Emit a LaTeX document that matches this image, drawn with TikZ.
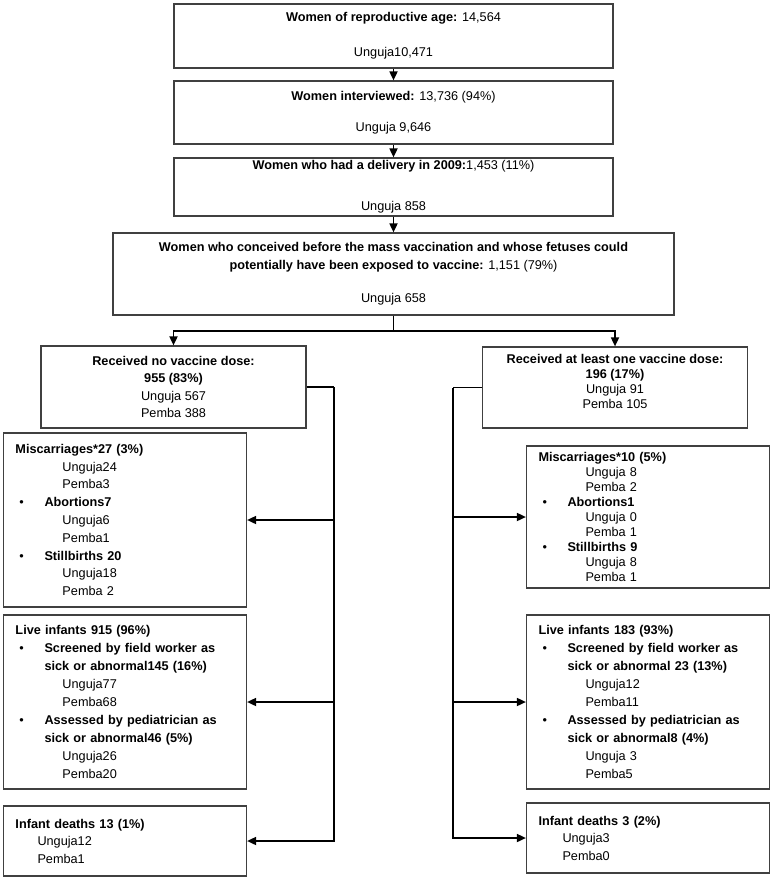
\documentclass[tikz,border=0pt]{standalone}
\usepackage{fontspec}
\setmainfont{Liberation Sans}
\usetikzlibrary{arrows.meta}
\tikzstyle{mainbox} = [rectangle, draw=black!75, line width=1.2pt, align=center, inner sep=0pt, font=\fontsize{12.7}{18}\selectfont]
\tikzstyle{armbox} = [rectangle, draw=black!75, line width=1.2pt, align=center, inner sep=0pt, minimum width=265pt]
\tikzstyle{listbox} = [rectangle, draw=black!75, line width=1.2pt, align=left, inner xsep=12pt, inner ysep=0pt, text width=219pt]
\tikzstyle{line} = [line width=1.7pt]
\tikzstyle{arrow} = [line width=1.7pt, -{Triangle[length=9pt,width=8pt]}]
\newcommand{\bul}{\makebox[29pt][l]{\hspace{4pt}\textbullet}}
\newcommand{\sub}{\hspace*{47pt}}
\newcommand{\wrap}{\hspace*{29pt}}

\begin{document}
\begin{tikzpicture}[x=1pt, y=-1pt]
            \useasboundingbox (0,0) rectangle (774,880);
            % Nodes
            \node (total) [mainbox, minimum width=439pt, minimum height=64pt] at (393.5,36)
                {\textbf{Women of reproductive age:} 14,564\\[17pt]Unguja10,471};
            \node (interv) [mainbox, minimum width=439pt, minimum height=63pt] at (393.5,112.5)
                {\textbf{Women interviewed:} 13,736 (94\%)\\[13pt]Unguja 9,646};
            \node (deliv) [mainbox, minimum width=439pt, minimum height=58pt] at (393.5,187)
                {\textbf{Women who had a delivery in 2009:}1,453 (11\%)\\[23pt]Unguja 858};
            \node (exposed) [mainbox, minimum width=561pt, minimum height=82pt] at (393.5,274)
                {\textbf{Women who conceived before the mass vaccination and whose fetuses could}\\
                 \textbf{potentially have been exposed to vaccine:} 1,151 (79\%)\\[15pt]Unguja 658};

            \node (novacc) [armbox, minimum height=82pt, font=\fontsize{12.7}{17.5}\selectfont] at (173.5,387)
                {\textbf{Received no vaccine dose:}\\\textbf{955 (83\%)}\\Unguja 567\\Pemba 388};
            \node (vacc) [armbox, minimum height=81pt, font=\fontsize{12.7}{15}\selectfont] at (615,387.5)
                {\textbf{Received at least one vaccine dose:}\\\textbf{196 (17\%)}\\Unguja 91\\Pemba 105\\[-3pt]};

            \node (lossno) [listbox, minimum height=174pt, font=\fontsize{12.7}{17.8}\selectfont] at (125,520)
                {\textbf{Miscarriages*27 (3\%)}\\\sub Unguja24\\\sub Pemba3\\
                 \bul\textbf{Abortions7}\\\sub Unguja6\\\sub Pemba1\\
                 \bul\textbf{Stillbirths 20}\\\sub Unguja18\\\sub Pemba 2};
            \node (liveno) [listbox, minimum height=174pt, font=\fontsize{12.7}{17.9}\selectfont] at (125,702)
                {\textbf{Live infants 915 (96\%)}\\
                 \bul\textbf{Screened by field worker as}\\\wrap\textbf{sick or abnormal145 (16\%)}\\
                 \sub Unguja77\\\sub Pemba68\\
                 \bul\textbf{Assessed by pediatrician as}\\\wrap\textbf{sick or abnormal46 (5\%)}\\
                 \sub Unguja26\\\sub Pemba20};
            \node (deathno) [listbox, minimum height=70pt, font=\fontsize{12.7}{17.5}\selectfont] at (125,841)
                {\textbf{Infant deaths 13 (1\%)}\\\hspace*{22pt}Unguja12\\\hspace*{22pt}Pemba1};

            \node (lossva) [listbox, minimum height=142pt, font=\fontsize{12.7}{15}\selectfont] at (648,517)
                {\textbf{Miscarriages*10 (5\%)}\\\sub Unguja 8\\\sub Pemba 2\\
                 \bul\textbf{Abortions1}\\\sub Unguja 0\\\sub Pemba 1\\
                 \bul\textbf{Stillbirths 9}\\\sub Unguja 8\\\sub Pemba 1};
            \node (liveva) [listbox, minimum height=174pt, font=\fontsize{12.7}{17.9}\selectfont] at (648,702)
                {\textbf{Live infants 183 (93\%)}\\
                 \bul\textbf{Screened by field worker as}\\\wrap\textbf{sick or abnormal 23 (13\%)}\\
                 \sub Unguja12\\\sub Pemba11\\
                 \bul\textbf{Assessed by pediatrician as}\\\wrap\textbf{sick or abnormal8 (4\%)}\\
                 \sub Unguja 3\\\sub Pemba5};
            \node (deathva) [listbox, minimum height=70pt, font=\fontsize{12.7}{17.5}\selectfont] at (648,838)
                {\textbf{Infant deaths 3 (2\%)}\\\hspace*{24pt}Unguja3\\\hspace*{24pt}Pemba0};

            \coordinate (lspine) at (334,387);
            \coordinate (rspine) at (453,387.5);

            % Arrows
            \draw [arrow] (total) -- (interv);
            \draw [arrow] (interv) -- (deliv);
            \draw [arrow] (deliv) -- (exposed);
            \draw [arrow] (exposed.south) -- ++(0,15.5) -| (novacc.north);
            \draw [arrow] (exposed.south) -- ++(0,15.5) -| (vacc.north);

            \draw [line] (novacc.east) -- (lspine);
            \draw [arrow] (lspine) |- (lossno.east);
            \draw [arrow] (lspine) |- (liveno.east);
            \draw [arrow] (lspine) |- (deathno.east);

            \draw [line] (vacc.west) -- (rspine);
            \draw [arrow] (rspine) |- (lossva.west);
            \draw [arrow] (rspine) |- (liveva.west);
            \draw [arrow] (rspine) |- (deathva.west);
        \end{tikzpicture}
\end{document}
